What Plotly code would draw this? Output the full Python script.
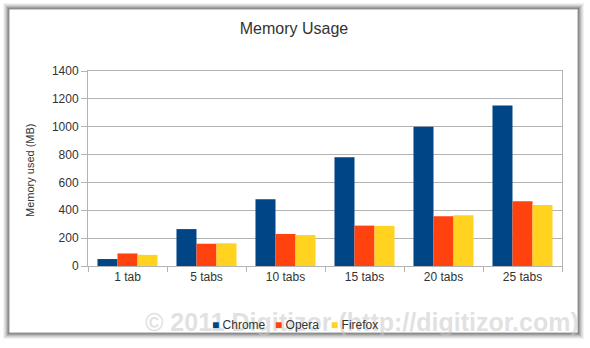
import plotly.graph_objects as go

categories = ["1 tab", "5 tabs", "10 tabs", "15 tabs", "20 tabs", "25 tabs"]
chrome = [50, 265, 480, 780, 1000, 1152]
opera = [90, 160, 230, 290, 357, 464]
firefox = [80, 163, 222, 288, 364, 438]
y_ticks = [0, 200, 400, 600, 800, 1000, 1200, 1400]

series = [("Chrome", chrome, "#004586"), ("Opera", opera, "#ff420e"), ("Firefox", firefox, "#ffd320")]

W, H = 590, 348
L, R, T, B = 88, 28, 71, 82
pw, ph = W - L - R, H - T - B

def px_x(x):
    return (x - L) / pw

def px_y(y):
    return (H - B - y) / ph

fig = go.Figure()
for name, vals, col in series:
    fig.add_trace(go.Bar(x=categories, y=vals, name=name, showlegend=False,
                         marker=dict(color=col, line=dict(width=0))))

shapes = []
# card shadow
for i, op in enumerate([0.05, 0.06, 0.08, 0.10, 0.14, 0.2]):
    d = 6 - i
    shapes.append(dict(type="rect", xref="paper", yref="paper", layer="below",
                       x0=px_x(9 - d), x1=px_x(578 + d), y0=px_y(9 - d), y1=px_y(333 + d),
                       fillcolor=f"rgba(0,0,0,{op})", line=dict(width=0)))
shapes.append(dict(type="rect", xref="paper", yref="paper", layer="below",
                   x0=px_x(9), x1=px_x(578), y0=px_y(9), y1=px_y(333),
                   fillcolor="white", line=dict(color="#9a9a9a", width=1)))

annotations = [
    dict(text="© 2011 Digitizor (http://digitizor.com)", xref="paper", yref="paper",
         x=px_x(362), y=px_y(322), xanchor="center", yanchor="middle", showarrow=False,
         font=dict(size=25, color="rgba(200,200,200,0.55)", family="Liberation Sans, Arial, sans-serif", weight="bold")),
    dict(text="Memory used (MB)", xref="paper", yref="paper", x=px_x(30), y=px_y(170),
         xanchor="center", yanchor="middle", textangle=-90, showarrow=False,
         font=dict(size=11, color="#333333")),
]
# legend entries (square + label), left x positions in pixels
legend_x = [212, 275, 331]
for (name, vals, col), lx in zip(series, legend_x):
    annotations.append(dict(text=f'<span style="color:{col}">■</span> {name}', xref="paper", yref="paper",
                            x=px_x(lx), y=px_y(325), xanchor="left", yanchor="middle", showarrow=False,
                            xshift=-2, font=dict(size=12, color="#333333")))

fig.update_layout(
    width=W, height=H,
    margin=dict(l=L, r=R, t=T, b=B, autoexpand=False),
    paper_bgcolor="white", plot_bgcolor="white",
    font=dict(family="Liberation Sans, Arial, sans-serif", color="#333333", size=12),
    title=dict(text="Memory Usage", x=294 / W, xanchor="center", y=1 - 28 / H, yanchor="middle",
               font=dict(size=16, color="#333333")),
    barmode="group", bargap=0.24, bargroupgap=0,
    showlegend=False,
    shapes=shapes,
    annotations=annotations,
)
fig.update_xaxes(showline=True, linecolor="#b3b3b3", linewidth=1, mirror=True,
                 ticks="outside", tickson="boundaries", ticklen=5, tickcolor="#b3b3b3",
                 showgrid=False, tickfont=dict(size=12, color="#333333"))
fig.update_yaxes(range=[0, 1400], tickvals=y_ticks, showline=True, linecolor="#b3b3b3", linewidth=1,
                 mirror=True, ticks="outside", ticklen=6, tickcolor="#b3b3b3",
                 showgrid=True, gridcolor="#b3b3b3", gridwidth=1, zeroline=False,
                 tickfont=dict(size=12, color="#333333"))

fig.write_html("out.html")
